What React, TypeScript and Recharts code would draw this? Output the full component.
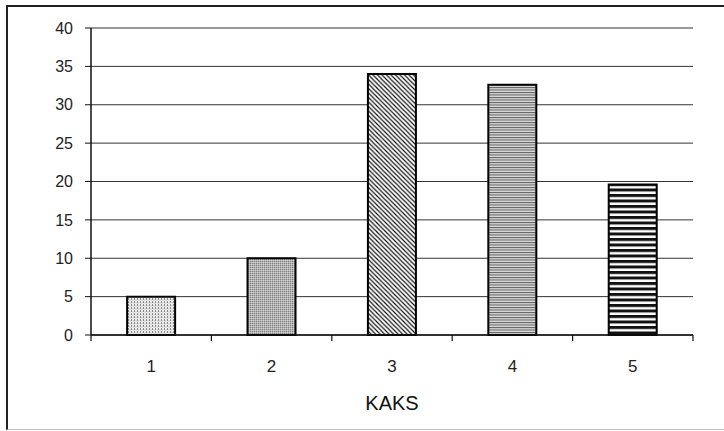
import React from "react";
import { BarChart, Bar, XAxis, YAxis, CartesianGrid, Cell } from "recharts";

const categories = ["1", "2", "3", "4", "5"];
const values = [5, 10, 34, 32.6, 19.6];
const yTicks = [0, 5, 10, 15, 20, 25, 30, 35, 40];
const patternIds = ["p1", "p2", "p3", "p4", "p5"];
const axisTitle = "KAKS";

const data = categories.map((c, i) => ({ name: c, value: values[i] }));

const FONT = "'Liberation Sans', Arial, sans-serif";

const XTick = (props: any) => {
  const { x, y, payload, width, visibleTicksCount, index } = props;
  const band = width / visibleTicksCount;
  const top = y - 6;
  return (
    <g>
      <line x1={x - band / 2} y1={top} x2={x - band / 2} y2={top + 6} stroke="#111" strokeWidth={1.2} />
      {index === visibleTicksCount - 1 && (
        <line x1={x + band / 2} y1={top} x2={x + band / 2} y2={top + 6} stroke="#111" strokeWidth={1.2} />
      )}
      <text x={x} y={y + 25} textAnchor="middle" dominantBaseline="central" fontSize={17} fill="#222" fontFamily={FONT}>
        {payload.value}
      </text>
    </g>
  );
};

export default function App() {
  return (
    <div
      style={{
        position: "absolute",
        left: 6,
        top: 5,
        width: 718,
        height: 422,
        boxSizing: "content-box",
        borderLeft: "2px solid #222",
        borderTop: "2px solid #222",
        borderBottom: "1px solid #bbb",
        background: "#fff",
      }}
    >
      <BarChart
        width={716}
        height={422}
        data={data}
        margin={{ top: 21, right: 31, bottom: 14, left: 8 }}
        barCategoryGap="30%"
      >
        <defs>
          <pattern id="p1" width="3" height="3" patternUnits="userSpaceOnUse">
            <rect width="3" height="3" fill="#f0f0f0" />
            <rect x="0" y="0" width="1" height="2" fill="#888" />
            <rect x="1.5" y="1.5" width="1" height="1" fill="#aaa" />
          </pattern>
          <pattern id="p2" width="2" height="2" patternUnits="userSpaceOnUse">
            <rect width="2" height="2" fill="#b4b4b4" />
            <rect x="0" y="0" width="1" height="1" fill="#808080" />
            <rect x="1" y="1" width="1" height="1" fill="#d0d0d0" />
          </pattern>
          <pattern id="p3" width="4.5" height="4.5" patternUnits="userSpaceOnUse">
            <rect width="4.5" height="4.5" fill="#fff" />
            <path d="M0,0 L4.5,4.5 M-1,3.5 L1,5.5 M3.5,-1 L5.5,1" stroke="#111" strokeWidth={1.2} />
          </pattern>
          <pattern id="p4" width="4" height="2.5" patternUnits="userSpaceOnUse">
            <rect width="4" height="2.5" fill="#d8d8d8" />
            <rect x="0" y="0" width="4" height="1" fill="#606060" />
          </pattern>
          <pattern id="p5" width="4" height="5.5" patternUnits="userSpaceOnUse">
            <rect width="4" height="5.5" fill="#fff" />
            <rect x="0" y="0" width="4" height="3" fill="#111" />
          </pattern>
        </defs>
        <CartesianGrid vertical={false} stroke="#333" strokeWidth={1} />
        <XAxis
          dataKey="name"
          height={80}
          tickSize={6}
          tickMargin={0}
          tickLine={false}
          axisLine={{ stroke: "#111", strokeWidth: 1.5 }}
          tick={<XTick />}
          interval={0}
          label={{ value: axisTitle, position: "insideBottom", offset: 5.5, fontSize: 20, fill: "#111", fontFamily: FONT }}
        />
        <YAxis
          width={75}
          domain={[0, 40]}
          ticks={yTicks}
          interval={0}
          tickSize={6}
          tickMargin={12}
          tickLine={{ stroke: "#111" }}
          axisLine={{ stroke: "#111", strokeWidth: 1.5 }}
          tick={{ fontSize: 16, fill: "#222", fontFamily: FONT }}
        />
        <YAxis
          yAxisId="r"
          orientation="right"
          width={0}
          domain={[0, 40]}
          tick={false}
          tickLine={false}
          axisLine={{ stroke: "#222", strokeWidth: 1.2 }}
        />
        <Bar dataKey="value" isAnimationActive={false} stroke="#000" strokeWidth={2}>
          {data.map((d, i) => (
            <Cell key={d.name} fill={`url(#${patternIds[i]})`} />
          ))}
        </Bar>
      </BarChart>
    </div>
  );
}
